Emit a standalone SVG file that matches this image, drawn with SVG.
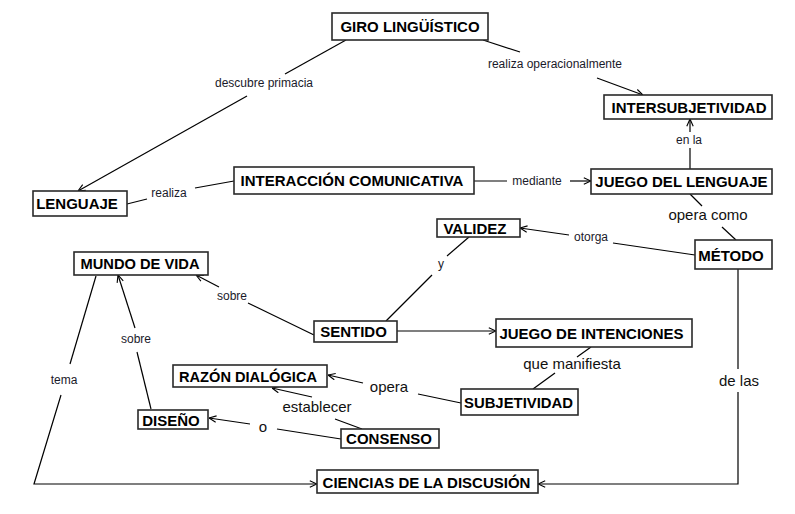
<svg xmlns="http://www.w3.org/2000/svg" width="795" height="514" viewBox="0 0 795 514">
<style>
.box{fill:#fff;stroke:#2a2a2a;stroke-width:1.6}
.nt{font-family:"Liberation Sans",Arial,sans-serif;font-weight:bold;font-size:15px;fill:#000;text-anchor:middle}
.lbl{font-family:"Liberation Sans",Arial,sans-serif;font-size:12px;fill:#1a1a2a;text-anchor:middle}
.lbl2{font-family:"Liberation Sans",Arial,sans-serif;font-size:15px;fill:#111;text-anchor:middle}
.ln{fill:none;stroke:#000;stroke-width:1.2}
</style>
<defs>
<marker id="arr" viewBox="0 0 10 10" refX="10" refY="5" markerWidth="8" markerHeight="8" markerUnits="userSpaceOnUse" orient="auto">
<path d="M1,1 L10,5 L1,9" fill="none" stroke="#000" stroke-width="1.4"/>
</marker>
</defs>
<rect width="795" height="514" fill="#fff"/>
<g id="connectors">
<line class="ln" x1="346" y1="40" x2="285" y2="74"/>
<line class="ln" x1="247" y1="96" x2="78" y2="191" marker-end="url(#arr)"/>
<text class="lbl" x="264" y="87">descubre primacia</text>
<line class="ln" x1="483" y1="40" x2="520" y2="52"/>
<line class="ln" x1="597" y1="78" x2="643" y2="95" marker-end="url(#arr)"/>
<text class="lbl" x="555" y="68">realiza operacionalmente</text>
<line class="ln" x1="234" y1="181" x2="195" y2="188"/>
<line class="ln" x1="147" y1="199" x2="127" y2="204"/>
<text class="lbl" x="169" y="197">realiza</text>
<line class="ln" x1="474" y1="181" x2="507" y2="181"/>
<line class="ln" x1="570" y1="181" x2="591" y2="181" marker-end="url(#arr)"/>
<text class="lbl" x="537" y="185">mediante</text>
<line class="ln" x1="690" y1="169" x2="690" y2="148"/>
<line class="ln" x1="690" y1="132" x2="690" y2="119" marker-end="url(#arr)"/>
<text class="lbl" x="689" y="144">en la</text>
<line class="ln" x1="690" y1="194" x2="702" y2="206"/>
<line class="ln" x1="722" y1="227" x2="736" y2="240"/>
<text class="lbl2" x="708" y="220">opera como</text>
<line class="ln" x1="695" y1="255" x2="613" y2="243"/>
<line class="ln" x1="569" y1="235" x2="520" y2="228" marker-end="url(#arr)"/>
<text class="lbl" x="591" y="241">otorga</text>
<line class="ln" x1="386" y1="321" x2="432" y2="275"/>
<line class="ln" x1="447" y1="256" x2="469" y2="237"/>
<text class="lbl" x="441" y="268">y</text>
<line class="ln" x1="397" y1="331" x2="496" y2="331" marker-end="url(#arr)"/>
<line class="ln" x1="314" y1="335" x2="248" y2="303"/>
<line class="ln" x1="219" y1="287" x2="196" y2="275" marker-end="url(#arr)"/>
<text class="lbl" x="232" y="300">sobre</text>
<line class="ln" x1="151" y1="409" x2="137" y2="352"/>
<line class="ln" x1="135" y1="328" x2="118" y2="275" marker-end="url(#arr)"/>
<text class="lbl" x="136" y="343">sobre</text>
<line class="ln" x1="96" y1="276" x2="70" y2="364"/>
<polyline class="ln" points="61,395 34,484 317,484" marker-end="url(#arr)"/>
<text class="lbl" x="64" y="384">tema</text>
<line class="ln" x1="738" y1="269" x2="738" y2="369"/>
<polyline class="ln" points="738,392 738,484 538,484" marker-end="url(#arr)"/>
<text class="lbl2" x="739" y="386">de las</text>
<line class="ln" x1="591" y1="347" x2="577" y2="357"/>
<line class="ln" x1="555" y1="373" x2="533" y2="389"/>
<text class="lbl2" x="572" y="369">que manifiesta</text>
<line class="ln" x1="461" y1="403" x2="418" y2="394"/>
<line class="ln" x1="363" y1="383" x2="328" y2="375" marker-end="url(#arr)"/>
<text class="lbl2" x="389" y="392">opera</text>
<line class="ln" x1="362" y1="429" x2="335" y2="419"/>
<line class="ln" x1="312" y1="397" x2="272" y2="388" marker-end="url(#arr)"/>
<text class="lbl2" x="317" y="412">establecer</text>
<line class="ln" x1="341" y1="439" x2="277" y2="429"/>
<line class="ln" x1="250" y1="424" x2="209" y2="418" marker-end="url(#arr)"/>
<text class="lbl2" x="263" y="432">o</text>
</g>
<g id="giro"><rect class="box" x="332" y="13" width="156" height="27"/><text class="nt" x="410" y="32">GIRO LINGÜÍSTICO</text></g>
<g id="intersubjetividad"><rect class="box" x="604" y="95" width="168" height="24"/><text class="nt" x="689" y="112.5">INTERSUBJETIVIDAD</text></g>
<g id="lenguaje"><rect class="box" x="33" y="191" width="94" height="25"/><text class="nt" x="77" y="209">LENGUAJE</text></g>
<g id="interaccion"><rect class="box" x="234" y="167" width="240" height="27"/><text class="nt" x="352" y="186">INTERACCIÓN COMUNICATIVA</text></g>
<g id="juego-lenguaje"><rect class="box" x="591" y="169" width="181" height="25"/><text class="nt" x="681.5" y="187">JUEGO DEL LENGUAJE</text></g>
<g id="metodo"><rect class="box" x="695" y="240" width="77" height="29"/><text class="nt" x="731" y="260.5">MÉTODO</text></g>
<g id="validez"><rect class="box" x="437" y="219" width="83" height="18"/><text class="nt" x="475" y="234">VALIDEZ</text></g>
<g id="mundo"><rect class="box" x="74" y="252" width="134" height="23"/><text class="nt" x="140" y="268.5" textLength="119" lengthAdjust="spacingAndGlyphs">MUNDO DE VIDA</text></g>
<g id="sentido"><rect class="box" x="314" y="321" width="83" height="21"/><text class="nt" x="353.5" y="336.5">SENTIDO</text></g>
<g id="juego-intenciones"><rect class="box" x="496" y="319" width="196" height="28"/><text class="nt" x="591.5" y="338.5">JUEGO DE INTENCIONES</text></g>
<g id="razon"><rect class="box" x="173" y="365" width="154" height="22"/><text class="nt" x="248" y="381.5" textLength="138" lengthAdjust="spacingAndGlyphs">RAZÓN DIALÓGICA</text></g>
<g id="subjetividad"><rect class="box" x="461" y="389" width="117" height="26"/><text class="nt" x="518.5" y="408" textLength="109" lengthAdjust="spacingAndGlyphs">SUBJETIVIDAD</text></g>
<g id="diseno"><rect class="box" x="138" y="410" width="70" height="19"/><text class="nt" x="171" y="426">DISEÑO</text></g>
<g id="consenso"><rect class="box" x="341" y="429" width="98" height="19"/><text class="nt" x="389" y="444">CONSENSO</text></g>
<g id="ciencias"><rect class="box" x="317" y="470" width="221" height="23"/><text class="nt" x="426.5" y="488">CIENCIAS DE LA DISCUSIÓN</text></g>
</svg>
